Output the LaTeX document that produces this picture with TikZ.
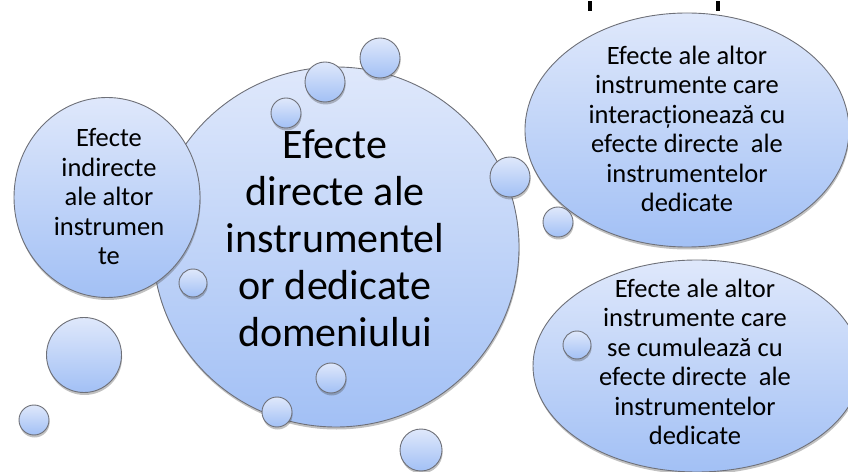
\documentclass[tikz,border=0pt]{standalone}
\usepackage{fontspec}
\setmainfont{Carlito}
\usetikzlibrary{shapes.geometric,shadows}
\definecolor{topblue}{RGB}{223,232,251}
\definecolor{botblue}{RGB}{162,192,245}
\definecolor{edgegray}{RGB}{110,112,120}
\tikzset{
  blob/.style={ellipse, inner sep=0pt, draw=edgegray, line width=0.9bp,
    top color=topblue, bottom color=botblue,
    drop shadow={shadow xshift=0.6bp, shadow yshift=-2.5bp, opacity=0.35, fill=black!70}},
  bubble/.style={blob, circle},
  bigtext/.style={align=center, font=\fontsize{42bp}{47bp}\selectfont, inner sep=0pt},
  smalltext/.style={align=center, font=\fontsize{26.5bp}{29.5bp}\selectfont, inner sep=0pt},
}
\begin{document}
\begin{tikzpicture}[x=1bp,y=-1bp]
\useasboundingbox (0,0) rectangle (848,472);
\begin{scope}
\clip (0,0) rectangle (848,472);
% cut-off title descenders
\fill[black] (588,1.5) rectangle (592,11);
\fill[black] (716,1.5) rectangle (720,11);
% main shapes
\node[blob, minimum width=366bp, minimum height=360bp] (big) at (336,247) {};
\node[blob, minimum width=186bp, minimum height=200bp] (left) at (107,197.5) {};
\node[blob, minimum width=324bp, minimum height=234bp] (topr) at (687,130) {};
\node[blob, minimum width=328bp, minimum height=212bp] (botr) at (697,366) {};
% small bubbles
\node[bubble, minimum size=40bp] (b1) at (380,58) {};
\node[bubble, minimum size=40bp] (b2) at (325,82) {};
\node[bubble, minimum size=30bp] (b3) at (286,113) {};
\node[bubble, minimum size=40bp] (b4) at (510,177) {};
\node[bubble, minimum size=30bp] (b5) at (558,222) {};
\node[bubble, minimum size=28bp] (b6) at (193,283) {};
\node[bubble, minimum size=30bp] (b7) at (331,378) {};
\node[bubble, minimum size=30bp] (b8) at (277,412) {};
\node[bubble, minimum size=42bp] (b9) at (421,450) {};
\node[bubble, minimum size=75bp] (b10) at (84,355) {};
\node[bubble, minimum size=30bp] (b11) at (34,420) {};
\node[bubble, minimum size=28bp] (b12) at (577,345) {};
% texts
\node[bigtext] (tbig) at (335,238) {Efecte\\directe ale\\instrumentel\\or dedicate\\domeniului};
\node[smalltext] (tleft) at (109,197) {Efecte\\indirecte\\ale altor\\instrumen\\te};
\node[smalltext] (ttop) at (687,129) {Efecte ale altor\\instrumente care\\interacționează cu\\efecte directe\ \ ale\\instrumentelor\\dedicate};
\node[smalltext] (tbot) at (695,362) {Efecte ale altor\\instrumente care\\se cumulează cu\\efecte directe\ \ ale\\instrumentelor\\dedicate};
\end{scope}
\end{tikzpicture}
\end{document}
